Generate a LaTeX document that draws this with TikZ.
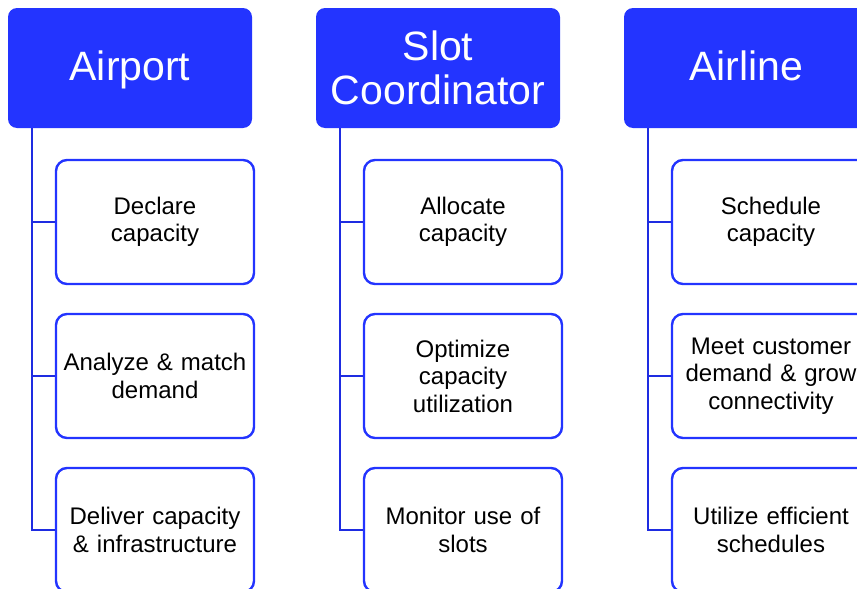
\documentclass[tikz,border=0pt]{standalone}
\usepackage{fontspec}
\setmainfont{Liberation Sans}
\usepackage{tikz}
\definecolor{roleblue}{RGB}{35,52,255}
\definecolor{linkblue}{RGB}{30,44,225}
\tikzset{
	role/.style={rectangle, rounded corners=9pt, fill=roleblue, text=white,
		minimum width=244pt, minimum height=120pt, align=center,
		font=\fontsize{41}{44}\selectfont},
	oneline/.style={text height=30pt, text depth=6pt},
	task/.style={rectangle, rounded corners=11pt, draw=roleblue, line width=2.4pt,
		fill=white, minimum width=198pt, minimum height=124pt, text width=192pt,
		inner xsep=3pt, align=center, font=\fontsize{24}{27.5}\selectfont},
	link/.style={draw=linkblue, line width=2pt}
}
\begin{document}
\begin{tikzpicture}[x=1pt, y=-1pt]
	\useasboundingbox (0,0) rectangle (857,589);
	\clip (0,0) rectangle (857,589);
	\node[role, oneline] (airport) at (130,68) {Airport};
	\node[role] (coord) at (438,68) {Slot\\Coordinator};
	\node[role, oneline] (airline) at (746,68) {Airline};
	\coordinate (airportbus) at ([xshift=24pt]airport.south west);
	\coordinate (coordbus) at ([xshift=24pt]coord.south west);
	\coordinate (airlinebus) at ([xshift=24pt]airline.south west);
	\node[task] (declare) at (155,222) {Declare\\capacity};
	\node[task] (analyze) at (155,376) {Analyze \& match\\demand};
	\node[task] (deliver) at (155,530) {Deliver capacity\\\& infrastructure};
	\node[task] (allocate) at (463,222) {Allocate\\capacity};
	\node[task] (optimize) at (463,376) {Optimize\\capacity\\utilization};
	\node[task] (monitor) at (463,530) {Monitor use of\\slots};
	\node[task] (schedule) at (771,222) {Schedule\\capacity};
	\node[task] (meet) at (771,376) {Meet customer\\demand \& grow\\connectivity};
	\node[task] (utilize) at (771,530) {Utilize efficient\\schedules};
	\foreach \bus/\a/\b/\c in {airportbus/declare/analyze/deliver,
		coordbus/allocate/optimize/monitor, airlinebus/schedule/meet/utilize} {
		\draw[link] (\bus) |- (\a.west);
		\draw[link] (\bus) |- (\b.west);
		\draw[link] (\bus) |- (\c.west);
	}
\end{tikzpicture}
\end{document}
